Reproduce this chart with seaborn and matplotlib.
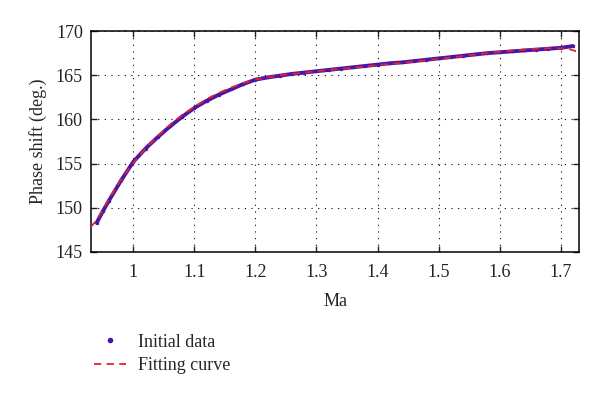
import seaborn as sns
import matplotlib.pyplot as plt
import pandas as pd
from matplotlib.lines import Line2D

# initial data
ma_data = [0.94, 0.95, 0.96, 0.98, 1.00, 1.02, 1.04, 1.06, 1.08, 1.10,
           1.12, 1.14, 1.16, 1.18, 1.20, 1.22, 1.24, 1.26, 1.28, 1.30,
           1.32, 1.34, 1.36, 1.38, 1.40, 1.42, 1.44, 1.46, 1.48, 1.50,
           1.52, 1.54, 1.56, 1.58, 1.60, 1.62, 1.64, 1.66, 1.68, 1.70, 1.72]
phase_data = [148.3, 149.6, 150.8, 153.1, 155.2, 156.7, 158.0, 159.2, 160.3, 161.3,
              162.1, 162.8, 163.4, 164.0, 164.5, 164.75, 164.95, 165.15, 165.3, 165.45,
              165.6, 165.75, 165.9, 166.05, 166.2, 166.35, 166.45, 166.6, 166.75, 166.9,
              167.05, 167.2, 167.35, 167.5, 167.6, 167.7, 167.8, 167.9, 168.0, 168.1, 168.3]

# fitting curve
ma_fit = [0.93, 0.94, 0.96, 0.98, 1.00, 1.02, 1.04, 1.06, 1.08, 1.10, 1.12, 1.14,
          1.16, 1.18, 1.20, 1.24, 1.28, 1.32, 1.36, 1.40, 1.44, 1.48, 1.52,
          1.56, 1.60, 1.64, 1.68, 1.71, 1.73]
phase_fit = [147.8, 148.6, 151.0, 153.2, 155.1, 156.7, 158.1, 159.4, 160.5, 161.4, 162.3, 163.0,
             163.6, 164.1, 164.5, 165.0, 165.3, 165.6, 165.85, 166.15, 166.4, 166.7, 167.0,
             167.35, 167.65, 167.9, 168.05, 168.05, 167.6]

xticks = [1, 1.1, 1.2, 1.3, 1.4, 1.5, 1.6, 1.7]
xticklabels = ['1', '1.1', '1.2', '1.3', '1.4', '1.5', '1.6', '1.7']
yticks = [145, 150, 155, 160, 165, 170]

data_color = '#4a16a8'
fit_color = '#e8202a'

sns.set_style('ticks')
plt.rcParams['font.family'] = ['Liberation Serif', 'DejaVu Serif']
plt.rcParams['xtick.direction'] = 'in'
plt.rcParams['ytick.direction'] = 'in'

fig = plt.figure(figsize=(6, 3.98), dpi=100)
ax = fig.add_axes([0.152, 0.367, 0.813, 0.555])

df_data = pd.DataFrame({'Ma': ma_data, 'Phase': phase_data})
df_fit = pd.DataFrame({'Ma': ma_fit, 'Phase': phase_fit})

sns.lineplot(data=df_data, x='Ma', y='Phase', ax=ax, color=data_color, lw=2.8,
             marker='o', markersize=2.5, markeredgewidth=0, zorder=3)
sns.lineplot(data=df_fit, x='Ma', y='Phase', ax=ax, color=fit_color, lw=1.3,
             linestyle=(0, (4, 3)), zorder=4)

ax.set_xlim(0.931, 1.73)
ax.set_ylim(145, 170)
ax.set_xticks(xticks)
ax.set_xticklabels(xticklabels)
ax.set_yticks(yticks)
ax.grid(True, color='black', linestyle=(0, (1, 5)), linewidth=0.8)
ax.tick_params(axis='both', which='both', top=True, right=True, labelsize=13,
               length=4, width=1, colors='#222222', pad=6)
ax.tick_params(axis='x', pad=9)
for s in ax.spines.values():
    s.set_linewidth(1.1)
    s.set_color('black')

ax.set_xlabel('Ma', fontsize=13, labelpad=8)
ax.set_ylabel('Phase shift (deg.)', fontsize=13, labelpad=6)

handles = [Line2D([], [], color=data_color, marker='.', linestyle='none', markersize=6),
           Line2D([], [], color=fit_color, linestyle=(0, (4, 3)), lw=1.3)]
fig.legend(handles, ['Initial data', 'Fitting curve'], loc='upper left',
           bbox_to_anchor=(0.145, 0.18), frameon=False, fontsize=13,
           handlelength=1.75, handletextpad=0.7, labelspacing=0.35, borderaxespad=0)

fig.savefig('out.png', dpi=100)
